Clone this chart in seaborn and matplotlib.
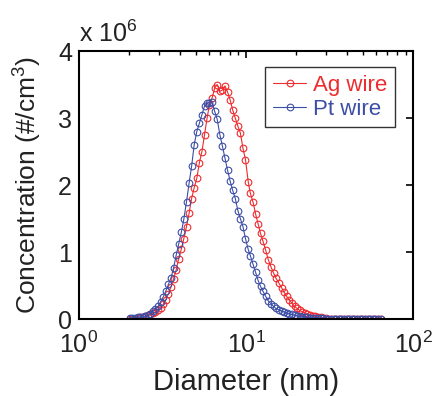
import numpy as np
import pandas as pd
import matplotlib
matplotlib.use("Agg")
import matplotlib.pyplot as plt
import seaborn as sns

# SMPS bin mid-point diameters (nm)
diameter = [
    2.02, 2.09, 2.16, 2.24, 2.32, 2.40, 2.49, 2.58, 2.67, 2.77,
    2.87, 2.97, 3.08, 3.19, 3.31, 3.43, 3.55, 3.68, 3.82, 3.95,
    4.10, 4.24, 4.40, 4.56, 4.72, 4.89, 5.07, 5.25, 5.44, 5.64,
    5.84, 6.04, 6.26, 6.49, 6.72, 6.97, 7.22, 7.48, 7.75, 8.03,
    8.32, 8.62, 8.93, 9.24, 9.58, 9.92, 10.3, 10.6, 11.0, 11.4,
    11.8, 12.2, 12.6, 13.1, 13.6, 14.1, 14.6, 15.1, 15.7, 16.3,
    16.8, 17.5, 18.1, 18.8, 19.5, 20.2, 20.9, 21.7, 22.5, 23.3,
    24.1, 25.0, 25.9, 26.9, 27.9, 28.9, 30.0, 31.1, 32.2, 33.4,
    34.6, 35.9, 37.2, 38.5, 40.0, 41.4, 42.9, 44.5, 46.1, 47.8,
    49.6, 51.4, 53.3, 55.2, 57.3, 59.4, 61.5, 63.8,
]

# concentration, x 10^6 #/cm^3
ag_wire = [
    0.01, 0.01, 0.01, 0.02, 0.03, 0.03, 0.04, 0.05, 0.07, 0.09,
    0.11, 0.13, 0.17, 0.22, 0.29, 0.38, 0.48, 0.60, 0.74, 0.90,
    1.05, 1.20, 1.38, 1.58, 1.80, 1.96, 2.10, 2.33, 2.50, 2.75,
    3.00, 3.20, 3.30, 3.45, 3.50, 3.40, 3.42, 3.48, 3.39, 3.27,
    3.12, 3.00, 2.88, 2.78, 2.55, 2.38, 2.05, 1.88, 1.75, 1.57,
    1.42, 1.28, 1.17, 1.03, 0.88, 0.78, 0.69, 0.61, 0.54, 0.47,
    0.41, 0.34, 0.29, 0.24, 0.19, 0.16, 0.13, 0.11, 0.09, 0.07,
    0.06, 0.05, 0.04, 0.03, 0.03, 0.02, 0.02, 0.01, 0.01, 0.01,
    0.01, 0.01, 0.01, 0.00, 0.00, 0.00, 0.00, 0.00, 0.00, 0.00,
    0.00, 0.00, 0.00, 0.00, 0.00, 0.00, 0.00, 0.00,
]

pt_wire = [
    0.02, 0.02, 0.02, 0.03, 0.03, 0.03, 0.04, 0.06, 0.08, 0.12,
    0.15, 0.19, 0.26, 0.33, 0.42, 0.52, 0.61, 0.76, 0.96, 1.12,
    1.30, 1.49, 1.75, 2.03, 2.28, 2.60, 2.80, 2.92, 3.05, 3.18,
    3.22, 3.23, 3.24, 3.10, 2.98, 2.75, 2.58, 2.40, 2.22, 2.06,
    1.92, 1.80, 1.62, 1.50, 1.38, 1.20, 1.04, 0.95, 0.82, 0.70,
    0.58, 0.49, 0.42, 0.34, 0.27, 0.23, 0.19, 0.16, 0.14, 0.12,
    0.11, 0.09, 0.08, 0.07, 0.06, 0.05, 0.04, 0.035, 0.03, 0.03,
    0.025, 0.02, 0.02, 0.02, 0.015, 0.015, 0.01, 0.01, 0.01, 0.01,
    0.01, 0.01, 0.01, 0.01, 0.01, 0.01, 0.01, 0.01, 0.01, 0.01,
    0.01, 0.01, 0.01, 0.01, 0.01, 0.01, 0.01, 0.01,
]

df = pd.DataFrame({"diameter": diameter, "Ag wire": ag_wire, "Pt wire": pt_wire})

sns.set_theme(style="white")
plt.rcParams["font.family"] = ["Liberation Sans", "DejaVu Sans"]
plt.rcParams["mathtext.fontset"] = "custom"
plt.rcParams["mathtext.rm"] = "Liberation Sans"

fig = plt.figure(figsize=(4.34, 3.96), dpi=100)
ax = fig.add_axes([0.182, 0.194, 0.770, 0.677])

series = [("Ag wire", "#ee2b2e"), ("Pt wire", "#3c4ea6")]
for name, col in series:
    sns.lineplot(data=df, x="diameter", y=name, ax=ax, color=col, label=name,
                 marker="o", markersize=4.8, markerfacecolor="none",
                 markeredgecolor=col, markeredgewidth=0.8, linewidth=0.8,
                 sort=False, estimator=None)

ax.set_xscale("log")
ax.set_xlim(1, 100)
ax.set_ylim(0, 4)
ax.set_yticks([0, 1, 2, 3, 4])
ax.set_yticklabels(["0", "1", "2", "3", "4"])

ax.set_xlabel("Diameter (nm)", fontsize=21, color="#222222", labelpad=7)
ax.set_ylabel("Concentration (#/cm$^3$)", fontsize=19, color="#222222", labelpad=11)
ax.text(0.0, 1.015, "x 10$^6$", transform=ax.transAxes, fontsize=18,
        color="#222222", ha="left", va="bottom")

for s in ax.spines.values():
    s.set_visible(True)
    s.set_color("black")
    s.set_linewidth(1.5)

ax.tick_params(axis="both", which="both", direction="in", top=True, right=True,
               labelsize=18, labelcolor="#222222", color="black")
ax.tick_params(axis="both", which="major", length=5, width=1.2)
ax.tick_params(axis="x", which="major", pad=9)
ax.tick_params(axis="y", which="major", pad=5)
ax.tick_params(axis="x", which="minor", length=3, width=1.0)

leg = ax.legend(loc="upper right", bbox_to_anchor=(0.946, 0.94), borderaxespad=0,
                fontsize=16, frameon=True, fancybox=False, handlelength=1.5,
                handletextpad=0.3, borderpad=0.35, labelspacing=0.12)
leg.get_frame().set_edgecolor("black")
leg.get_frame().set_linewidth(1.0)
for txt, (name, col) in zip(leg.get_texts(), series):
    txt.set_color(col)

fig.savefig("out.png", dpi=100)
